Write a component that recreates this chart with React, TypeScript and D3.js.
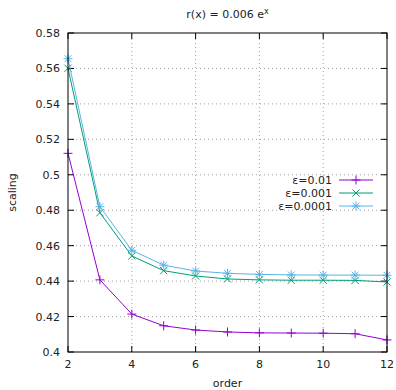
import React, { useEffect, useRef } from 'react'
import * as d3 from 'd3'

const orders = [2, 3, 4, 5, 6, 7, 8, 9, 10, 11, 12]
const eps01 = [0.5121, 0.4407, 0.4214, 0.4148, 0.4124, 0.4113, 0.4108, 0.4107, 0.4106, 0.4103, 0.4068]
const eps001 = [0.5601, 0.4786, 0.4542, 0.4459, 0.4429, 0.4412, 0.4407, 0.4405, 0.4405, 0.4404, 0.4395]
const eps0001 = [0.5655, 0.4820, 0.4574, 0.4490, 0.4457, 0.4444, 0.4438, 0.4435, 0.4434, 0.4434, 0.4433]
const seriesNames = ['ε=0.01', 'ε=0.001', 'ε=0.0001']
const colors = ['#9400d3', '#009e73', '#56b4e9']
const xTicks = [2, 4, 6, 8, 10, 12]
const yTicks = [0.4, 0.42, 0.44, 0.46, 0.48, 0.5, 0.52, 0.54, 0.56, 0.58]

const width = 396
const height = 390
const margin = { top: 33, right: 9, bottom: 38, left: 68 }
const font = 'DejaVu Sans, sans-serif'

function drawPoint(g: any, kind: number, cx: number, cy: number, color: string) {
    const r = 4.5
    const seg = (x1: number, y1: number, x2: number, y2: number) =>
        g.append('line').attr('x1', x1).attr('y1', y1).attr('x2', x2).attr('y2', y2)
            .attr('stroke', color).attr('stroke-width', 1)
    if (kind === 0 || kind === 2) {
        seg(cx - r, cy, cx + r, cy)
        seg(cx, cy - r, cx, cy + r)
    }
    if (kind === 1 || kind === 2) {
        const d = kind === 2 ? r * 0.75 : r * 0.8
        seg(cx - d, cy - d, cx + d, cy + d)
        seg(cx - d, cy + d, cx + d, cy - d)
    }
}

export default function App() {
    const ref = useRef<SVGSVGElement>(null)

    useEffect(() => {
        const svg = d3.select(ref.current)
        svg.selectAll('*').remove()
        const innerWidth = width - margin.left - margin.right
        const innerHeight = height - margin.top - margin.bottom

        const x = d3.scaleLinear().domain([2, 12]).range([margin.left, margin.left + innerWidth])
        const y = d3.scaleLinear().domain([0.4, 0.58]).range([margin.top + innerHeight, margin.top])

        // grid
        const grid = svg.append('g').attr('stroke', '#a0a0a0').attr('stroke-width', 1).attr('stroke-dasharray', '1,3')
        xTicks.slice(1, -1).forEach(t => {
            grid.append('line').attr('x1', x(t)).attr('x2', x(t)).attr('y1', y(0.4)).attr('y2', y(0.58))
        })
        yTicks.slice(1, -1).forEach(t => {
            grid.append('line').attr('x1', x(2)).attr('x2', x(12)).attr('y1', y(t)).attr('y2', y(t))
        })

        // ticks (inward, mirrored)
        const tk = svg.append('g').attr('stroke', 'black').attr('stroke-width', 1)
        xTicks.forEach(t => {
            tk.append('line').attr('x1', x(t)).attr('x2', x(t)).attr('y1', y(0.4)).attr('y2', y(0.4) - 6)
            tk.append('line').attr('x1', x(t)).attr('x2', x(t)).attr('y1', y(0.58)).attr('y2', y(0.58) + 6)
        })
        yTicks.forEach(t => {
            tk.append('line').attr('x1', x(2)).attr('x2', x(2) + 6).attr('y1', y(t)).attr('y2', y(t))
            tk.append('line').attr('x1', x(12)).attr('x2', x(12) - 6).attr('y1', y(t)).attr('y2', y(t))
        })

        // tick labels
        svg.append('g').selectAll('text').data(xTicks).enter().append('text')
            .attr('x', d => x(d)).attr('y', y(0.4) + 16)
            .attr('text-anchor', 'middle').attr('font-family', font).attr('font-size', 11)
            .attr('fill', '#222').text(d => d)
        svg.append('g').selectAll('text').data(yTicks).enter().append('text')
            .attr('x', x(2) - 8).attr('y', d => y(d) + 4)
            .attr('text-anchor', 'end').attr('font-family', font).attr('font-size', 11)
            .attr('fill', '#222').text(d => d3.format('')(+d.toFixed(2)))

        // series
        const all = [eps01, eps001, eps0001]
        all.forEach((vals, i) => {
            const line = d3.line<number>().x((d, j) => x(orders[j])).y(d => y(d))
            svg.append('path').attr('d', line(vals)).attr('fill', 'none')
                .attr('stroke', colors[i]).attr('stroke-width', 1)
            const pg = svg.append('g')
            vals.forEach((v, j) => drawPoint(pg, i, x(orders[j]), y(v), colors[i]))
        })

        // border
        svg.append('rect').attr('x', x(2)).attr('y', y(0.58)).attr('width', innerWidth).attr('height', innerHeight)
            .attr('fill', 'none').attr('stroke', 'black').attr('stroke-width', 1)

        // legend
        seriesNames.forEach((name, i) => {
            const ly = 180 + i * 13
            svg.append('text').attr('x', 332).attr('y', ly + 4).attr('text-anchor', 'end')
                .attr('font-family', font).attr('font-size', 11).attr('fill', '#222').text(name)
            svg.append('line').attr('x1', 339).attr('x2', 373).attr('y1', ly).attr('y2', ly)
                .attr('stroke', colors[i]).attr('stroke-width', 1)
            drawPoint(svg.append('g'), i, 356, ly, colors[i])
        })

        // title
        const title = svg.append('text').attr('x', x(7)).attr('y', 18).attr('text-anchor', 'middle')
            .attr('font-family', font).attr('font-size', 11).attr('fill', '#222')
        title.append('tspan').text('r(x) = 0.006 e')
        title.append('tspan').attr('dy', -4).attr('font-size', 8).text('x')

        // axis labels
        svg.append('text').attr('x', x(7)).attr('y', 387).attr('text-anchor', 'middle')
            .attr('font-family', font).attr('font-size', 11).attr('fill', '#222').text('order')
        svg.append('text').attr('transform', `translate(16,${y(0.49)}) rotate(-90)`).attr('text-anchor', 'middle')
            .attr('font-family', font).attr('font-size', 11).attr('fill', '#222').text('scaling')
    }, [])

    return (
        <svg ref={ref} width={width} height={height}
            style={{ position: 'absolute', left: 0, top: 0, background: 'white' }}></svg>
    )
}
